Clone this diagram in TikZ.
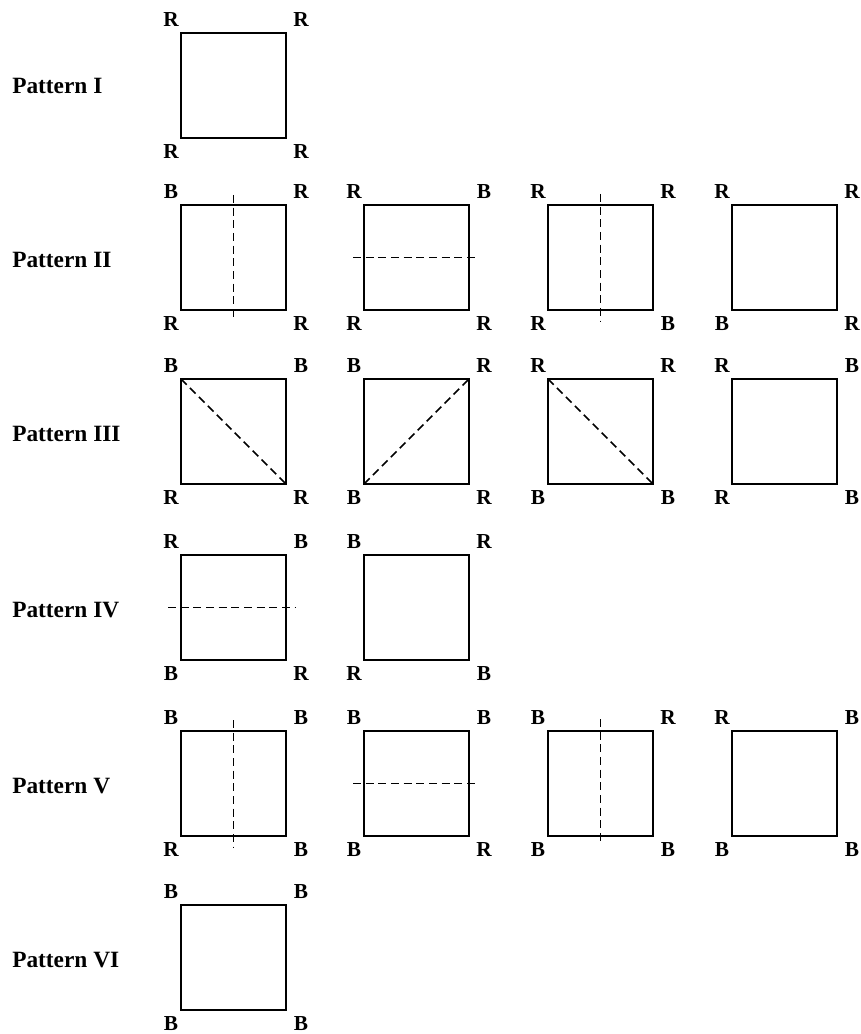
\documentclass[tikz,border=0pt]{standalone}
\usepackage{fontspec}
\setmainfont{Liberation Serif}
\usetikzlibrary{calc}

\tikzset{
  cuadro/.style={draw,line width=1.5pt,minimum size=78.75pt,inner sep=0pt,outer sep=0pt},
  letra/.style={font=\fontsize{16}{17}\selectfont\bfseries,inner sep=0pt},
  patron/.style={font=\fontsize{17.5}{19}\selectfont\bfseries,anchor=west,inner sep=0pt},
  corte/.style={line width=1.3pt,dash pattern=on 6pt off 3.5pt}
}

% Letras de las esquinas: cuadro, sup. izq., sup. der., inf. izq., inf. der.
\newcommand{\esquinas}[5]{%
  \node[letra] (#1-a) at ($(#1.north west)+(-10,-13)$) {#2};
  \node[letra] (#1-b) at ($(#1.north east)+(15,-13)$) {#3};
  \node[letra] (#1-c) at ($(#1.south west)+(-10,14)$) {#4};
  \node[letra] (#1-d) at ($(#1.south east)+(15,14)$) {#5};
}

\begin{document}
\begin{tikzpicture}[x=0.75pt,y=-0.75pt]
  \useasboundingbox (0,0) rectangle (860,1034);

  % Rótulos de los patrones
  \node[patron] (l1) at (12,86) {Pattern I};
  \node[patron] (l2) at (12,260) {Pattern II};
  \node[patron] (l3) at (12,434) {Pattern III};
  \node[patron] (l4) at (12,610) {Pattern IV};
  \node[patron] (l5) at (12,786) {Pattern V};
  \node[patron] (l6) at (12,960) {Pattern VI};

  % Cuadros
  \node[cuadro] (c11) at (233.5,85.5) {};
  \node[cuadro] (c21) at (233.5,257.5) {};
  \node[cuadro] (c22) at (416.5,257.5) {};
  \node[cuadro] (c23) at (600.5,257.5) {};
  \node[cuadro] (c24) at (784.5,257.5) {};
  \node[cuadro] (c31) at (233.5,431.5) {};
  \node[cuadro] (c32) at (416.5,431.5) {};
  \node[cuadro] (c33) at (600.5,431.5) {};
  \node[cuadro] (c34) at (784.5,431.5) {};
  \node[cuadro] (c41) at (233.5,607.5) {};
  \node[cuadro] (c42) at (416.5,607.5) {};
  \node[cuadro] (c51) at (233.5,783.5) {};
  \node[cuadro] (c52) at (416.5,783.5) {};
  \node[cuadro] (c53) at (600.5,783.5) {};
  \node[cuadro] (c54) at (784.5,783.5) {};
  \node[cuadro] (c61) at (233.5,957.5) {};

  % Letras de las esquinas
  \esquinas{c11}{R}{R}{R}{R}
  \esquinas{c21}{B}{R}{R}{R}
  \esquinas{c22}{R}{B}{R}{R}
  \esquinas{c23}{R}{R}{R}{B}
  \esquinas{c24}{R}{R}{B}{R}
  \esquinas{c31}{B}{B}{R}{R}
  \esquinas{c32}{B}{R}{B}{R}
  \esquinas{c33}{R}{R}{B}{B}
  \esquinas{c34}{R}{B}{R}{B}
  \esquinas{c41}{R}{B}{B}{R}
  \esquinas{c42}{B}{R}{R}{B}
  \esquinas{c51}{B}{B}{R}{B}
  \esquinas{c52}{B}{B}{B}{R}
  \esquinas{c53}{B}{R}{B}{B}
  \esquinas{c54}{R}{B}{B}{B}
  \esquinas{c61}{B}{B}{B}{B}

  % Líneas de corte
  \draw[corte] ($(c21.north)+(0,-10)$) -- ($(c21.south)+(0,10)$);
  \draw[corte] ($(c22.west)+(-11,0)$) -- ($(c22.east)+(10,0)$);
  \draw[corte] ($(c23.north)+(0,-11)$) -- ($(c23.south)+(0,11)$);
  \draw[corte] (c31.north west) -- (c31.south east);
  \draw[corte] (c32.south west) -- (c32.north east);
  \draw[corte] (c33.north west) -- (c33.south east);
  \draw[corte] ($(c41.west)+(-13,0)$) -- ($(c41.east)+(10,0)$);
  \draw[corte] ($(c51.north)+(0,-11)$) -- ($(c51.south)+(0,11)$);
  \draw[corte] ($(c52.west)+(-11,0)$) -- ($(c52.east)+(10,0)$);
  \draw[corte] ($(c53.north)+(0,-12)$) -- ($(c53.south)+(0,9)$);
\end{tikzpicture}
\end{document}
